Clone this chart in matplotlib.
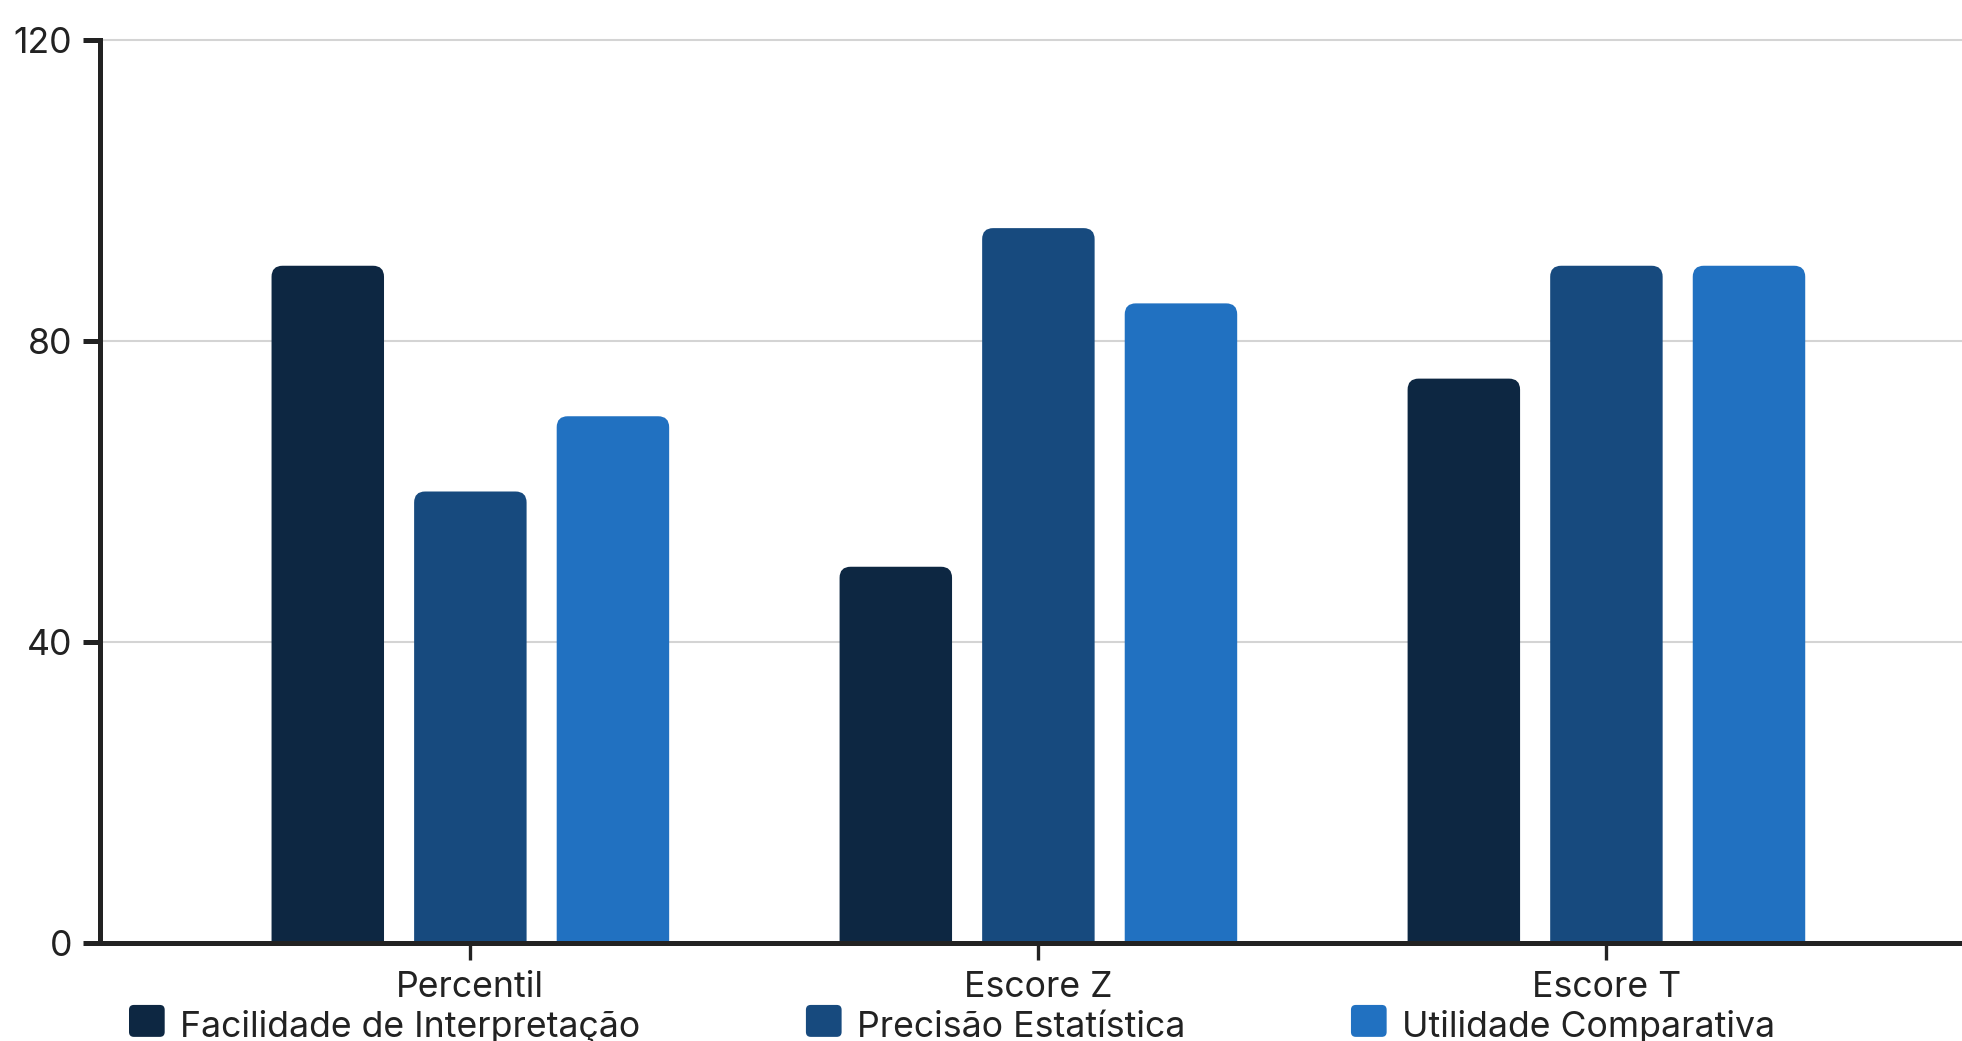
import numpy as np
import matplotlib.pyplot as plt
from matplotlib.patches import FancyBboxPatch, Patch
from matplotlib.legend_handler import HandlerPatch

plt.rcParams['font.family'] = ['Inter', 'DejaVu Sans']

categories = ["Percentil", "Escore Z", "Escore T"]
series_names = ["Facilidade de Interpretação", "Precisão Estatística",
                "Utilidade Comparativa"]
facilidade = [90, 50, 75]
precisao = [60, 95, 90]
utilidade = [70, 85, 90]
colors = ["#0d2742", "#174a7e", "#2171c1"]
yticks = [0, 40, 80, 120]

W, H, DPI = 1962, 1041, 100
fig = plt.figure(figsize=(W / DPI, H / DPI), dpi=DPI)
ax = fig.add_axes([100 / W, 1 - 943 / H, 1 - 100 / W, (943 - 40) / H])
xlim = (-0.652, 2.626)
ylim = (0, 120)
ax.set_xlim(*xlim)
ax.set_ylim(*ylim)

# data units per pixel, for rounding the bar tops evenly
ax_w_px = W * (1 - 100 / W)
ax_h_px = 943 - 40
dx_px = (xlim[1] - xlim[0]) / ax_w_px
dy_px = (ylim[1] - ylim[0]) / ax_h_px
radius_px = 11
r_x = radius_px * dx_px
r_y = radius_px * dy_px

x = np.arange(len(categories))
width = 0.198
step = 0.251
ink = "#222222"
fs = 25.7

for i, (vals, col) in enumerate(zip([facilidade, precisao, utilidade], colors)):
    bars = ax.bar(x + (i - 1) * step, vals, width, color=col)
    for rect in bars:
        x0, y0 = rect.get_xy()
        w, h = rect.get_width(), rect.get_height()
        rect.set_visible(False)
        # extend below zero so only the top corners show rounded
        ax.add_patch(FancyBboxPatch(
            (x0, y0 - r_y), w, h + r_y,
            boxstyle=f"round,pad=0,rounding_size={r_x}",
            mutation_aspect=r_y / r_x, fc=col, ec="none", zorder=2))

ax.set_xticks(x)
ax.set_xticklabels(categories)
ax.set_yticks(yticks)
ax.yaxis.grid(True, color="#d4d4d4", linewidth=1.5, zorder=0)
ax.set_axisbelow(True)
for gl in ax.get_ygridlines():
    gl.set_clip_on(False)

for side in ["top", "right"]:
    ax.spines[side].set_visible(False)
for side in ["left", "bottom"]:
    ax.spines[side].set_linewidth(3.6)
    ax.spines[side].set_color(ink)
    ax.spines[side].set_zorder(3)

ax.tick_params(axis="y", length=12, width=3.6, pad=8, labelsize=fs,
               color=ink, labelcolor=ink)
ax.tick_params(axis="x", length=12.5, width=2.4, pad=7.5, labelsize=fs,
               color=ink, labelcolor=ink)


def rounded_handle(legend, orig_handle, xdescent, ydescent, width, height,
                   fontsize):
    # nudge the swatch up a little relative to the label text
    return FancyBboxPatch((-xdescent, -ydescent + 2.5), width, height,
                          boxstyle="round,pad=0,rounding_size=3.5")


handles = [Patch(facecolor=c, edgecolor="none") for c in colors]
fig.legend(handles, series_names, loc="center left",
           bbox_to_anchor=(129 / W, 1 - 1026 / H), ncol=3, frameon=False,
           fontsize=fs, handlelength=1.0, handleheight=1.0,
           handletextpad=0.42, columnspacing=4.65, borderpad=0,
           borderaxespad=0, labelcolor=ink,
           handler_map={Patch: HandlerPatch(patch_func=rounded_handle)})

fig.savefig("out.png", dpi=DPI)
